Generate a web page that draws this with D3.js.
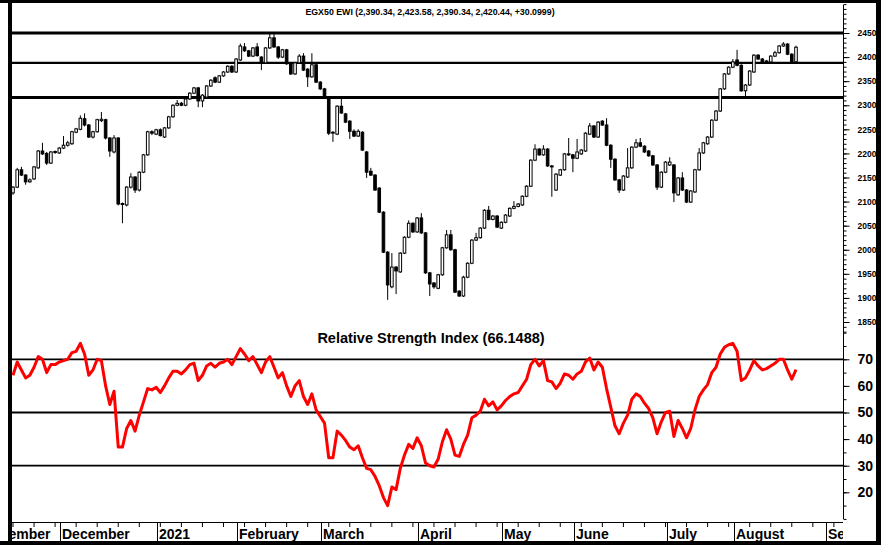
<!DOCTYPE html>
<html>
<head>
<meta charset="utf-8">
<script src="https://cdn.jsdelivr.net/npm/d3@7"></script>
<style>
  body { margin: 0; background: #fff; }
  svg { display: block; font-family: "Liberation Sans", Arial, sans-serif; font-weight: bold; }
</style>
</head>
<body>
<script>
// daily candles, EGX50 EWI, Nov 2020 - Aug 2021 (one entry per trading day)
const opens = [
  2118, 2130, 2166, 2155, 2141, 2147, 2170, 2205, 2200, 2180,
  2202, 2201, 2211, 2217, 2220, 2244, 2250, 2272, 2259, 2234,
  2245, 2268, 2270, 2232, 2203, 2232, 2096, 2093, 2130, 2151,
  2124, 2161, 2197, 2245, 2240, 2249, 2234, 2253, 2276, 2300,
  2304, 2300, 2313, 2325, 2336, 2309, 2317, 2340, 2357, 2348,
  2361, 2369, 2381, 2369, 2394, 2421, 2413, 2402, 2421, 2400,
  2388, 2419, 2440, 2421, 2400, 2415, 2386, 2365, 2388, 2402,
  2375, 2359, 2384, 2348, 2334, 2317, 2242, 2240, 2298, 2282,
  2267, 2246, 2236, 2244, 2203, 2163, 2155, 2128, 2078, 1995,
  1923, 1964, 1954, 1993, 2026, 2055, 2037, 2066, 2035, 1952,
  1931, 1920, 1948, 2004, 2031, 2000, 1914, 1904, 1943, 1972,
  2020, 2025, 2045, 2082, 2063, 2070, 2045, 2057, 2070, 2086,
  2090, 2093, 2111, 2132, 2186, 2209, 2197, 2209, 2174, 2124,
  2155, 2166, 2199, 2197, 2190, 2199, 2205, 2240, 2257, 2234,
  2267, 2259, 2217, 2188, 2145, 2124, 2151, 2170, 2213, 2222,
  2215, 2205, 2195, 2176, 2130, 2161, 2176, 2176, 2114, 2149,
  2124, 2099, 2120, 2166, 2201, 2220, 2234, 2269, 2288, 2334,
  2365, 2379, 2394, 2383, 2330, 2342, 2369, 2404, 2396, 2390,
  2390, 2402, 2409, 2423, 2427, 2406, 2390.34
];
const highs = [
  2132, 2170, 2172, 2157, 2148, 2174, 2207, 2222, 2203, 2205,
  2206, 2213, 2236, 2226, 2247, 2253, 2279, 2283, 2261, 2247,
  2272, 2286, 2272, 2234, 2238, 2234, 2098, 2132, 2159, 2153,
  2163, 2199, 2247, 2248, 2251, 2252, 2255, 2278, 2302, 2311,
  2307, 2315, 2327, 2338, 2338, 2323, 2342, 2354, 2360, 2363,
  2371, 2383, 2383, 2398, 2428, 2429, 2415, 2421, 2429, 2402,
  2421, 2448, 2450, 2423, 2417, 2417, 2388, 2390, 2406, 2408,
  2377, 2408, 2386, 2350, 2336, 2319, 2246, 2300, 2315, 2284,
  2269, 2250, 2250, 2246, 2205, 2170, 2157, 2130, 2080, 1997,
  1993, 1966, 1995, 2028, 2061, 2057, 2068, 2076, 2037, 1954,
  1933, 1950, 2006, 2041, 2041, 2002, 1916, 1946, 1974, 2022,
  2035, 2047, 2084, 2091, 2072, 2072, 2059, 2074, 2088, 2101,
  2097, 2113, 2134, 2188, 2219, 2211, 2217, 2211, 2176, 2159,
  2168, 2201, 2232, 2199, 2230, 2209, 2244, 2263, 2259, 2267,
  2269, 2273, 2219, 2190, 2147, 2155, 2211, 2215, 2230, 2232,
  2217, 2207, 2197, 2178, 2163, 2184, 2192, 2178, 2151, 2161,
  2126, 2124, 2168, 2211, 2224, 2236, 2271, 2290, 2336, 2367,
  2381, 2396, 2415, 2385, 2344, 2373, 2406, 2406, 2398, 2394,
  2404, 2413, 2425, 2431, 2429, 2408, 2423.58
];
const lows = [
  2114, 2128, 2153, 2135, 2139, 2145, 2168, 2197, 2176, 2178,
  2199, 2199, 2209, 2214, 2218, 2242, 2248, 2256, 2232, 2231,
  2243, 2265, 2229, 2193, 2200, 2092, 2055, 2090, 2127, 2118,
  2121, 2159, 2195, 2238, 2238, 2235, 2232, 2251, 2274, 2298,
  2298, 2298, 2311, 2323, 2296, 2296, 2315, 2338, 2346, 2346,
  2359, 2367, 2367, 2367, 2392, 2411, 2400, 2400, 2401, 2373,
  2386, 2417, 2419, 2396, 2398, 2384, 2363, 2363, 2386, 2371,
  2338, 2357, 2346, 2332, 2317, 2238, 2224, 2238, 2282, 2263,
  2230, 2234, 2234, 2205, 2149, 2153, 2122, 2076, 1993, 1896,
  1920, 1908, 1952, 1991, 2024, 2035, 2035, 2033, 1950, 1904,
  1919, 1918, 1946, 2002, 1998, 1910, 1902, 1902, 1941, 1970,
  2018, 2023, 2043, 2061, 2061, 2045, 2043, 2055, 2068, 2084,
  2088, 2091, 2109, 2130, 2184, 2195, 2195, 2172, 2110, 2122,
  2153, 2164, 2195, 2161, 2188, 2197, 2203, 2238, 2232, 2232,
  2257, 2215, 2170, 2143, 2118, 2122, 2149, 2168, 2211, 2213,
  2201, 2193, 2174, 2124, 2128, 2159, 2174, 2099, 2112, 2122,
  2097, 2097, 2118, 2164, 2199, 2218, 2232, 2267, 2286, 2332,
  2363, 2377, 2381, 2328, 2317, 2340, 2367, 2394, 2386, 2386,
  2388, 2400, 2407, 2421, 2404, 2390, 2390.34
];
const closes = [
  2130, 2166, 2155, 2141, 2145, 2172, 2205, 2199, 2180, 2203,
  2204, 2211, 2217, 2222, 2245, 2251, 2273, 2259, 2234, 2245,
  2270, 2271, 2232, 2205, 2232, 2095, 2094, 2130, 2151, 2124,
  2161, 2197, 2245, 2242, 2249, 2237, 2253, 2276, 2300, 2304,
  2300, 2313, 2325, 2336, 2309, 2321, 2340, 2352, 2348, 2361,
  2369, 2381, 2369, 2396, 2423, 2413, 2402, 2419, 2403, 2388,
  2419, 2440, 2421, 2400, 2415, 2386, 2365, 2388, 2402, 2373,
  2359, 2384, 2348, 2334, 2319, 2242, 2244, 2298, 2284, 2265,
  2246, 2236, 2246, 2207, 2161, 2155, 2124, 2078, 1995, 1927,
  1964, 1956, 1993, 2026, 2055, 2037, 2066, 2035, 1952, 1929,
  1923, 1948, 2004, 2031, 2000, 1912, 1904, 1943, 1972, 2020,
  2025, 2045, 2082, 2063, 2070, 2047, 2057, 2072, 2086, 2090,
  2095, 2111, 2132, 2186, 2209, 2197, 2209, 2174, 2172, 2157,
  2166, 2199, 2197, 2190, 2203, 2207, 2242, 2257, 2234, 2265,
  2259, 2217, 2188, 2145, 2124, 2153, 2170, 2213, 2222, 2215,
  2203, 2195, 2176, 2130, 2161, 2182, 2182, 2118, 2149, 2124,
  2099, 2122, 2166, 2201, 2222, 2234, 2269, 2288, 2334, 2365,
  2379, 2390, 2383, 2330, 2342, 2371, 2404, 2396, 2388, 2392,
  2402, 2409, 2423, 2427, 2406, 2390.34, 2420.44
];
const rsi = [
  64, 69, 66, 63, 64, 67, 71, 70, 65, 68,
  68, 69, 69.5, 70, 72.5, 73, 76, 72, 64, 66,
  70, 69.5, 60, 53, 58, 37, 37, 44, 47, 43,
  49, 54, 59, 58.5, 59.5, 57.5, 60, 63, 65.5, 65.5,
  64.5, 66, 68, 68.5, 62, 64, 67.5, 68.5, 67, 68.5,
  69, 70, 68, 71, 74, 72, 69.5, 71, 68, 65,
  69, 71, 67, 63, 65, 60, 56, 60, 62, 56,
  53, 57, 51, 48.5, 46, 33, 33, 43, 41.5, 39.5,
  37, 36, 37.5, 33, 29, 28.5, 26, 22.5, 18, 15,
  22, 21, 29, 34, 38, 36.5, 40.5, 37.5, 31, 30,
  29.5, 32.5, 39, 43.5, 40, 34, 33.5, 38, 41.5, 48,
  49, 50.5, 55, 52.5, 54, 51, 52.5, 54.5, 56, 57,
  57.5, 60, 62.5, 68, 70, 67.5, 69.5, 62, 61.5, 59,
  61, 64.5, 64, 62.5, 64.5, 65.5, 69, 70.5, 66, 69,
  67, 59, 52, 45, 42, 46, 49, 55, 57, 56,
  53.5, 51.5, 48, 42, 46.5, 50, 50.5, 41, 47, 44,
  40.5, 44, 51, 56, 58.5, 60.5, 65, 67, 72, 74.5,
  75.5, 76, 73, 62, 63, 66, 69.5, 67.5, 66, 66.5,
  67.5, 68.5, 70, 70, 66, 62.5, 66.1488
];

// first trading day (candle index) of each month
const monthLabels = ["November", "December", "2021", "February", "March", "April", "May", "June", "July", "August", "September"];
const monthStarts = [-8, 11, 34, 53, 73, 96, 116, 133, 155, 171, 193];

const priceTicks = [1850, 1900, 1950, 2000, 2050, 2100, 2150, 2200, 2250, 2300, 2350, 2400, 2450];
const rsiTicks = [20, 30, 40, 50, 60, 70];
const priceLevels = [2450, 2388, 2316];
const rsiLevels = [70, 50, 30];

const title = "EGX50 EWI (2,390.34, 2,423.58, 2,390.34, 2,420.44, +30.0999)";
const rsiTitle = "Relative Strength Index (66.1488)";

const width = 881, height = 545;
const plot = { left: 12, right: 843, top: 3, priceBottom: 333, rsiBottom: 519, axisY: 522 };

const svg = d3.select('body').append('svg')
    .attr('width', width)
    .attr('height', height);

svg.append('rect').attr('width', width).attr('height', height).attr('fill', '#fff');

svg.append('clipPath').attr('id', 'plotclip')
  .append('rect')
    .attr('x', plot.left).attr('y', 0)
    .attr('width', plot.right - plot.left).attr('height', height);

const x = d3.scaleLinear().domain([0, 186]).range([13, 796]);
const y = d3.scaleLinear().domain([1850, 2450]).range([322, 33]);
const yR = d3.scaleLinear().domain([30, 70]).range([465.7, 359.3]);

const candles = opens.map((o, i) => ({ i, o, h: highs[i], l: lows[i], c: closes[i] }));

// price pane title
svg.append('text')
    .attr('x', 430).attr('y', 15)
    .attr('text-anchor', 'middle')
    .style('font-size', '8.8px')
    .text(title);

// support / resistance lines
svg.append('g').selectAll('line')
  .data(priceLevels)
  .enter().append('line')
    .attr('x1', plot.left).attr('x2', plot.right)
    .attr('y1', d => y(d)).attr('y2', d => y(d))
    .attr('stroke', '#000')
    .attr('stroke-width', (d, i) => i === 1 ? 2.2 : 3);

// candles
const cg = svg.append('g').attr('clip-path', 'url(#plotclip)');
cg.selectAll('line.wick')
  .data(candles)
  .enter().append('line')
    .attr('class', 'wick')
    .attr('x1', d => x(d.i)).attr('x2', d => x(d.i))
    .attr('y1', d => y(d.h)).attr('y2', d => y(d.l))
    .attr('stroke', '#000').attr('stroke-width', 1);

cg.selectAll('rect.body')
  .data(candles)
  .enter().append('rect')
    .attr('class', 'body')
    .attr('x', d => x(d.i) - 1.3)
    .attr('width', 2.6)
    .attr('y', d => y(Math.max(d.o, d.c)))
    .attr('height', d => Math.max(0.8, Math.abs(y(d.o) - y(d.c))))
    .attr('fill', d => d.c >= d.o ? '#fff' : '#000')
    .attr('stroke', '#000').attr('stroke-width', 1);

// RSI pane
svg.append('text')
    .attr('x', 431).attr('y', 343)
    .attr('text-anchor', 'middle')
    .style('font-size', '14.5px')
    .text(rsiTitle);

svg.append('g').selectAll('line')
  .data(rsiLevels)
  .enter().append('line')
    .attr('x1', plot.left).attr('x2', plot.right)
    .attr('y1', d => yR(d)).attr('y2', d => yR(d))
    .attr('stroke', '#000').attr('stroke-width', 1.8);

svg.append('path')
    .datum(rsi)
    .attr('clip-path', 'url(#plotclip)')
    .attr('fill', 'none')
    .attr('stroke', '#ff0000')
    .attr('stroke-width', 3)
    .attr('stroke-linejoin', 'round')
    .attr('d', d3.line().x((d, i) => x(i)).y(d => yR(d)));

// right axes
svg.append('line')
    .attr('x1', plot.right + 0.5).attr('x2', plot.right + 0.5)
    .attr('y1', plot.top + 2).attr('y2', plot.rsiBottom)
    .attr('stroke', '#000');

const styleAxis = (g, size) => {
  g.select('.domain').remove();
  g.selectAll('text')
    .attr('font-family', '"Liberation Sans", Arial, sans-serif')
    .style('font-weight', 'bold')
    .style('font-size', size)
    .attr('fill', '#000');
};

svg.append('g')
    .attr('transform', `translate(${plot.right + 0.5},0)`)
    .call(d3.axisRight(y).tickValues(d3.range(1830, 2511, 10)).tickSize(3).tickFormat(''))
    .call(g => styleAxis(g, '8px'));

svg.append('g')
    .attr('transform', `translate(${plot.right + 0.5},0)`)
    .call(d3.axisRight(y).tickValues(priceTicks).tickSize(6).tickPadding(8).tickFormat(d3.format('d')))
    .call(g => styleAxis(g, '8.5px'));

svg.append('g')
    .attr('transform', `translate(${plot.right + 0.5},0)`)
    .call(d3.axisRight(yR).tickValues(d3.range(10, 81, 5)).tickSize(3).tickFormat(''))
    .call(g => styleAxis(g, '13px'));

svg.append('g')
    .attr('transform', `translate(${plot.right + 0.5},0)`)
    .call(d3.axisRight(yR).tickValues(rsiTicks).tickSize(6).tickPadding(8).tickFormat(d3.format('d')))
    .call(g => styleAxis(g, '14px'));

// bottom date axis
const xg = svg.append('g').attr('clip-path', 'url(#plotclip)');
xg.append('line')
    .attr('x1', plot.left).attr('x2', plot.right)
    .attr('y1', plot.axisY + 0.5).attr('y2', plot.axisY + 0.5)
    .attr('stroke', '#000');

xg.selectAll('line.week')
  .data(d3.range(0, 200, 5))
  .enter().append('line')
    .attr('class', 'week')
    .attr('x1', d => x(d)).attr('x2', d => x(d))
    .attr('y1', plot.axisY).attr('y2', plot.axisY + 5)
    .attr('stroke', '#000');

xg.selectAll('line.month')
  .data(monthStarts)
  .enter().append('line')
    .attr('class', 'month')
    .attr('x1', d => Math.round(x(d)) + 1.5).attr('x2', d => Math.round(x(d)) + 1.5)
    .attr('y1', plot.axisY).attr('y2', height)
    .attr('stroke', '#000');

xg.selectAll('text.month')
  .data(monthStarts)
  .enter().append('text')
    .attr('class', 'month')
    .attr('x', d => Math.round(x(d)) + 3)
    .attr('y', 539)
    .style('font-size', '14px')
    .text((d, i) => monthLabels[i]);

// outer frame
const frame = svg.append('g').attr('fill', '#000');
frame.append('rect').attr('x', 0).attr('y', 0).attr('width', width).attr('height', 3);
frame.append('rect').attr('x', 8).attr('y', 0).attr('width', 4).attr('height', height);
frame.append('rect').attr('x', 876).attr('y', 0).attr('width', 5).attr('height', height);
frame.append('rect').attr('x', 0).attr('y', 541).attr('width', width).attr('height', 4);
</script>
</body>
</html>
